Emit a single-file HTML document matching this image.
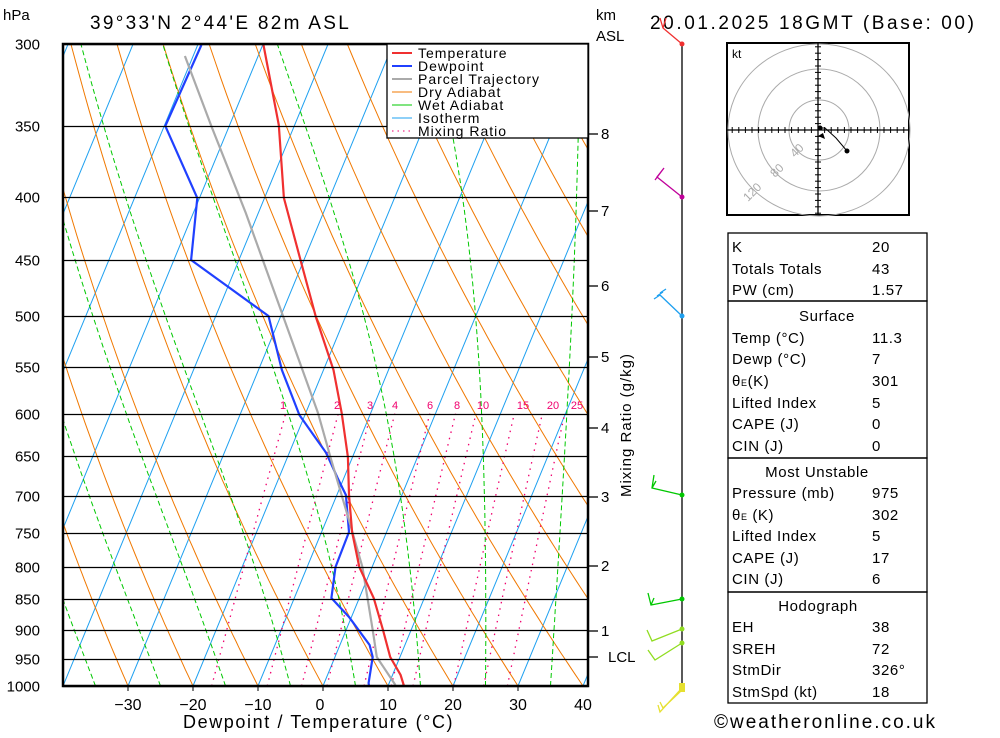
<!DOCTYPE html>
<html><head><meta charset="utf-8"><style>
body{margin:0;background:#fff;width:1000px;height:733px;overflow:hidden}
svg{font-family:"Liberation Sans",sans-serif}
</style></head><body>
<svg id="s" width="1000" height="733" xmlns="http://www.w3.org/2000/svg">
<defs><clipPath id="c"><rect x="63" y="44" width="525" height="642"/></clipPath></defs>
<g id="bg" clip-path="url(#c)"></g>
<g id="prof" clip-path="url(#c)"></g>
<g id="fr"></g>
</svg>
<script>
var NS="http://www.w3.org/2000/svg";
function el(par,t,a,txt){var e=document.createElementNS(NS,t);for(var k in a)e.setAttribute(k,a[k]);if(txt!==undefined)e.textContent=txt;par.appendChild(e);return e;}
var bg=document.getElementById('bg'),pr=document.getElementById('prof'),fr=document.getElementById('fr');
function Y(p){return 44+Math.log(p/300)/Math.log(1000/300)*642;}
function X(T,p){return 323+6.5*T+0.413*(686-Y(p));}
function line(g,pts,st){var d=pts.map(function(q,i){return (i?'L':'M')+q[0].toFixed(1)+','+q[1].toFixed(1)}).join('');el(g,'path',Object.assign({d:d,fill:'none'},st));}
for(var T=-130;T<=40;T+=10){line(bg,[[X(T,1000),Y(1000)],[X(T,300),Y(300)]],{stroke:'#1ea0f0','stroke-width':1});}
for(var T0=-150;T0<=100;T0+=10){var th=T0+273.15,pts=[];for(var p=1000;p>=295;p-=10){pts.push([X(th*Math.pow(p/1000,0.286)-273.15,p),Y(p)]);}line(bg,pts,{stroke:'#f07800','stroke-width':1});}
function es(T){return 6.112*Math.exp(17.67*T/(T+243.5));}
for(var W=-85;W<=35;W+=10){var Tk=W+273.15,pts=[];for(var p=1000;p>=300;p-=2){if(p%10==0)pts.push([X(Tk-273.15,p),Y(p)]);var e=es(Tk-273.15),rs=0.622*e/(p-e),Lv=2.5e6;var dTdp=(287*Tk+Lv*rs)/(1005+Lv*Lv*rs*0.622/(287*Tk*Tk))/p;Tk-=dTdp*2;}line(bg,pts,{stroke:'#00c800','stroke-width':1,'stroke-dasharray':'5,3'});}
[1,2,3,4,6,8,10,15,20,25].forEach(function(w){var pts=[];for(var p=1000;p>=600;p-=10){var e=w*p/(622+w),l=Math.log(e/6.112),Td=243.5*l/(17.67-l);pts.push([X(Td,p),Y(p)]);}line(bg,pts,{stroke:'#f0006e','stroke-width':1.3,'stroke-dasharray':'1.5,5'});});
[300,350,400,450,500,550,600,650,700,750,800,850,900,950,1000].forEach(function(p){var y=Math.round(Y(p))+.5;el(fr,'line',{x1:63,y1:y,x2:588,y2:y,stroke:'#000','stroke-width':1.3});el(fr,'text',{x:40,y:y+5,'text-anchor':'end','font-size':15},p);});
function fx(a){return a.map(function(q){return [60+(q[0]-60)*1.032,q[1]];});}
line(pr,fx([[197,45],[162,126],[193,198],[187,260],[262,316],[275,370],[292,415],[307,437],[318,453],[329,478],[337,495],[340,532],[327,567],[323,598],[340,617],[360,645],[363,657],[359,683],[360,690]]),{stroke:'#2040ff','stroke-width':2.2});
line(pr,fx([[181,56],[207,127],[240,213],[260,270],[295,370],[310,413],[322,457],[338,513],[353,567],[363,630],[367,657],[385,685]]),{stroke:'#aaaaaa','stroke-width':2.2});
line(pr,fx([[257,44],[272,125],[277,198],[293,260],[308,317],[325,370],[333,413],[339,457],[340,495],[343,532],[350,567],[364,598],[373,630],[380,657],[390,675],[393,685],[389,688]]),{stroke:'#f03030','stroke-width':2.2});
[[1,283],[2,337],[3,370],[4,395],[6,430],[8,457],[10,483],[15,523],[20,553],[25,577]].forEach(function(a){el(fr,'text',{x:a[1],y:409,'text-anchor':'middle','font-size':11,fill:'#f0006e'},a[0]);});
</script>
<svg style="position:absolute;left:0;top:0" width="1000" height="733" xmlns="http://www.w3.org/2000/svg" font-family="Liberation Sans, sans-serif">
<rect x="63" y="44" width="525" height="642" fill="none" stroke="#000" stroke-width="2.5"/>
<rect x="387" y="44" width="201" height="94" fill="#fff" stroke="#000" stroke-width="1.3"/>
<g font-size="14" letter-spacing="1">
<line x1="392" y1="53" x2="412" y2="53" stroke="#f03030" stroke-width="2"/><text x="418" y="58">Temperature</text>
<line x1="392" y1="66" x2="412" y2="66" stroke="#2040ff" stroke-width="2"/><text x="418" y="71">Dewpoint</text>
<line x1="392" y1="79" x2="412" y2="79" stroke="#aaa" stroke-width="2"/><text x="418" y="84">Parcel Trajectory</text>
<line x1="392" y1="92" x2="412" y2="92" stroke="#f07800"/><text x="418" y="97">Dry Adiabat</text>
<line x1="392" y1="105" x2="412" y2="105" stroke="#00c800"/><text x="418" y="110">Wet Adiabat</text>
<line x1="392" y1="118" x2="412" y2="118" stroke="#1ea0f0"/><text x="418" y="123">Isotherm</text>
<line x1="392" y1="131" x2="412" y2="131" stroke="#f0006e" stroke-dasharray="1.5,4"/><text x="418" y="136">Mixing Ratio</text>
</g>
<text x="3" y="20" font-size="15">hPa</text>
<text x="90" y="29" font-size="19" letter-spacing="2.3">39°33'N  2°44'E  82m  ASL</text>
<text x="596" y="20" font-size="15">km</text><text x="596" y="41" font-size="15">ASL</text>
<text x="650" y="29" font-size="19" letter-spacing="2.6">20.01.2025  18GMT  (Base: 00)</text>
<g font-size="16" text-anchor="middle">
<text x="128" y="710">−30</text><text x="193" y="710">−20</text><text x="258" y="710">−10</text><text x="320" y="710">0</text><text x="388" y="710">10</text><text x="453" y="710">20</text><text x="518" y="710">30</text><text x="583" y="710">40</text>
</g>
<g stroke="#000"><line x1="128" y1="686" x2="128" y2="691"/><line x1="193" y1="686" x2="193" y2="691"/><line x1="258" y1="686" x2="258" y2="691"/><line x1="323" y1="686" x2="323" y2="691"/><line x1="388" y1="686" x2="388" y2="691"/><line x1="453" y1="686" x2="453" y2="691"/><line x1="518" y1="686" x2="518" y2="691"/></g>
<text x="183" y="728" font-size="18" letter-spacing="1.6">Dewpoint / Temperature (°C)</text>
<g stroke="#000" stroke-width="1.3"><line x1="588" y1="134" x2="598" y2="134"/><line x1="588" y1="211" x2="598" y2="211"/><line x1="588" y1="286" x2="598" y2="286"/><line x1="588" y1="357" x2="598" y2="357"/><line x1="588" y1="428" x2="598" y2="428"/><line x1="588" y1="497" x2="598" y2="497"/><line x1="588" y1="566" x2="598" y2="566"/><line x1="588" y1="631" x2="598" y2="631"/><line x1="588" y1="657" x2="598" y2="657"/></g>
<g font-size="15"><text x="601" y="139">8</text><text x="601" y="216">7</text><text x="601" y="291">6</text><text x="601" y="362">5</text><text x="601" y="433">4</text><text x="601" y="502">3</text><text x="601" y="571">2</text><text x="601" y="636">1</text><text x="608" y="662">LCL</text></g>
<text transform="translate(631,425) rotate(-90)" font-size="15" text-anchor="middle" letter-spacing="1">Mixing Ratio (g/kg)</text>
<line x1="682" y1="44" x2="682" y2="690" stroke="#000" stroke-width="1.3"/>
<g stroke-width="1.3" fill="none">
<path d="M682,44 L663,28 L660,18 M663,28 L666,18" stroke="#f03030"/><circle cx="682" cy="44" r="2.5" fill="#f03030" stroke="none"/>
<path d="M682,197 L657,177 L664,168 L655,180" stroke="#c0009a"/><circle cx="682" cy="197" r="2.5" fill="#c0009a" stroke="none"/>
<path d="M682,316 L660,295 M660,295 L654,299 M663,292 L657,296 M666,289 L660,293" stroke="#1ea0f0"/><circle cx="682" cy="316" r="2.5" fill="#1ea0f0" stroke="none"/>
<path d="M682,495 L652,488 L654,475 M652,488 L656,481" stroke="#00c800"/><circle cx="682" cy="495" r="2.5" fill="#00c800" stroke="none"/>
<path d="M682,599 L651,605 L648,593 M651,605 L654,598" stroke="#00c800"/><circle cx="682" cy="599" r="2.5" fill="#00c800" stroke="none"/>
<path d="M682,629 L652,641 L647,630" stroke="#90dd20"/><circle cx="682" cy="629" r="2.5" fill="#90dd20" stroke="none"/>
<path d="M682,643 L655,660 L648,650" stroke="#90dd20"/><circle cx="682" cy="643" r="2.5" fill="#90dd20" stroke="none"/>
<path d="M682,688 L660,712 L658,705 M682,690 L663,708 L660,702" stroke="#e6e030"/><rect x="679" y="683" width="6" height="9" fill="#e6e030" stroke="none"/>
</g>
<rect x="727" y="43" width="182" height="172" fill="#fff" stroke="#000" stroke-width="2"/>
<g fill="none" stroke="#aaa"><circle cx="819" cy="130" r="30"/><circle cx="819" cy="130" r="61"/><ellipse cx="819" cy="130" rx="91" ry="86"/></g>
<line x1="727" y1="130" x2="909" y2="130" stroke="#000" stroke-width="1.3"/><line x1="818" y1="43" x2="818" y2="215" stroke="#000" stroke-width="1.3"/>
<g stroke="#000" id="ht"></g>
<text x="732" y="58" font-size="12">kt</text>
<g fill="#aaa" font-size="12"><text transform="translate(795,158) rotate(-45)">40</text><text transform="translate(775,178) rotate(-45)">80</text><text transform="translate(748,202) rotate(-45)">120</text></g>
<path d="M820,128 L825,128 L836,138 L847,151" stroke="#000" fill="none"/><circle cx="847" cy="151" r="2.5"/><circle cx="820" cy="128" r="2.5"/><path d="M818,136 L825,139 L823,133 Z"/>
<g fill="none" stroke="#000" stroke-width="1.3">
<rect x="728" y="233" width="199" height="68"/><rect x="728" y="301" width="199" height="157"/><rect x="728" y="458" width="199" height="134"/><rect x="728" y="592" width="199" height="111"/>
</g>
<g font-size="15" letter-spacing="0.6">
<text x="732" y="252">K</text><text x="872" y="252">20</text>
<text x="732" y="274">Totals Totals</text><text x="872" y="274">43</text>
<text x="732" y="295">PW (cm)</text><text x="872" y="295">1.57</text>
<text x="827" y="321" text-anchor="middle">Surface</text>
<text x="732" y="343">Temp (°C)</text><text x="872" y="343">11.3</text>
<text x="732" y="364">Dewp (°C)</text><text x="872" y="364">7</text>
<text x="732" y="386">θ<tspan font-size="9">E</tspan>(K)</text><text x="872" y="386">301</text>
<text x="732" y="408">Lifted Index</text><text x="872" y="408">5</text>
<text x="732" y="429">CAPE (J)</text><text x="872" y="429">0</text>
<text x="732" y="451">CIN (J)</text><text x="872" y="451">0</text>
<text x="817" y="477" text-anchor="middle">Most Unstable</text>
<text x="732" y="498">Pressure (mb)</text><text x="872" y="498">975</text>
<text x="732" y="520">θ<tspan font-size="9">E</tspan> (K)</text><text x="872" y="520">302</text>
<text x="732" y="541">Lifted Index</text><text x="872" y="541">5</text>
<text x="732" y="563">CAPE (J)</text><text x="872" y="563">17</text>
<text x="732" y="584">CIN (J)</text><text x="872" y="584">6</text>
<text x="818" y="611" text-anchor="middle">Hodograph</text>
<text x="732" y="632">EH</text><text x="872" y="632">38</text>
<text x="732" y="654">SREH</text><text x="872" y="654">72</text>
<text x="732" y="675">StmDir</text><text x="872" y="675">326°</text>
<text x="732" y="697">StmSpd (kt)</text><text x="872" y="697">18</text>
</g>
<text x="714" y="728" font-size="19" letter-spacing="2">©weatheronline.co.uk</text>
</svg>
<script>
var ht=document.getElementById('ht');
for(var i=-13;i<=13;i++){if(!i)continue;var x=818+i*6.6,y=130+i*6.4;el(ht,'line',{x1:x,y1:127,x2:x,y2:133});el(ht,'line',{x1:815,y1:y,x2:821,y2:y});}
</script>
</body></html>
